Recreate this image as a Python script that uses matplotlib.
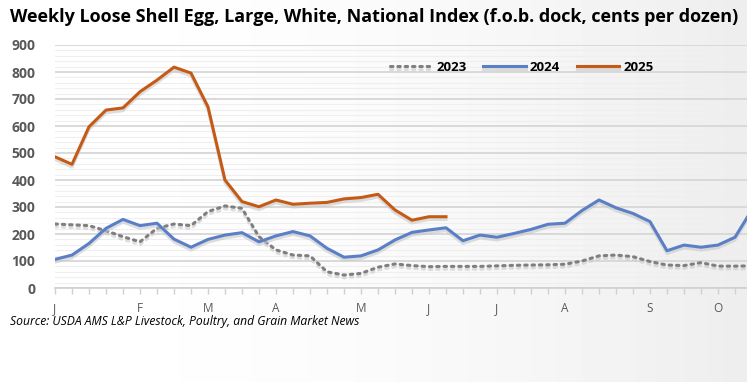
import numpy as np
import matplotlib.pyplot as plt
import matplotlib.patheffects as pe
from matplotlib import font_manager
from matplotlib.ticker import MultipleLocator

# weekly index, cents per dozen
y2023 = [237, 234, 231, 212, 190, 171, 221, 237, 231, 283, 304, 295, 190, 141,
         122, 119, 60, 48, 54, 77, 89, 83, 79, 80, 80, 80, 82, 84, 85, 86,
         88, 100, 119, 122, 116, 98, 85, 83, 94, 81, 81, 82]
y2024 = [106, 122, 165, 221, 254, 231, 240, 181, 151, 180, 196, 205, 171, 193,
         209, 193, 147, 114, 119, 141, 178, 206, 215, 223, 175, 196, 188, 202,
         217, 236, 240, 287, 326, 297, 276, 246, 138, 159, 151, 159, 188, 290]
y2025 = [486, 458, 597, 659, 667, 727, 770, 818, 796, 671, 400, 320, 301, 326,
         310, 314, 317, 330, 335, 347, 289, 251, 264, 264]

month_weeks = [0, 5, 9, 13, 18, 22, 26, 30, 35, 39]
month_labels = ['J', 'F', 'M', 'A', 'M', 'J', 'J', 'A', 'S', 'O']

title = 'Weekly Loose Shell Egg, Large, White, National Index (f.o.b. dock, cents per dozen)'
source = 'Source: USDA AMS L&P Livestock, Poultry, and Grain Market News'

names = {f.name for f in font_manager.fontManager.ttflist}
fnt = [n for n in ['DejaVu Sans Condensed', 'Liberation Sans Narrow', 'Open Sans', 'DejaVu Sans'] if n in names]

fig = plt.figure(figsize=(7.47, 3.82), dpi=100)

# faint grey wash towards the right, as in the original background
bg = fig.add_axes([0, 0, 1, 1], zorder=-5)
grad = np.linspace(0, 1, 200) ** 2
bg.imshow(np.tile(1 - 0.07 * grad, (10, 1)), cmap='gray', vmin=0, vmax=1,
          aspect='auto', extent=[0, 1, 0, 1])
bg.axis('off')

ax = fig.add_axes([55 / 747, 94 / 382, 692 / 747, 243 / 382])

shadow = [pe.SimpleLineShadow(offset=(0, -2), shadow_color='#c8c8c8', alpha=0.6), pe.Normal()]

ax.plot(range(len(y2023)), y2023, color='#7f7f7f', lw=2.2, ls=(0, (0.8, 1.6)),
        dash_capstyle='round', label='2023', path_effects=shadow)
ax.plot(range(len(y2024)), y2024, color='#5a7fc6', lw=2.2, solid_joinstyle='round',
        label='2024', path_effects=shadow)
ax.plot(range(len(y2025)), y2025, color='#c45a16', lw=2.2, solid_joinstyle='round',
        label='2025', path_effects=shadow)

ax.set_ylim(0, 900)
ax.set_xlim(0, 692 / 17)
ax.yaxis.set_major_locator(MultipleLocator(100))
ax.yaxis.set_minor_locator(MultipleLocator(20))
ax.grid(axis='y', which='major', color='#d9d9d9', lw=1.4)
ax.grid(axis='y', which='minor', color='#efefef', lw=0.8)
ax.set_axisbelow(True)

ax.set_xticks(month_weeks)
ax.set_xticklabels(month_labels, family=fnt, fontsize=8.5, color='#595959')
ax.set_xticks(range(0, 41), minor=True)
ax.tick_params(axis='x', which='both', length=4, color='#d0d0d0', width=1, pad=6)
ax.tick_params(axis='y', which='both', length=0, pad=14)
for t in ax.get_yticklabels():
    t.set_fontweight('bold')
    t.set_color('#595959')
    t.set_fontsize(10)
    t.set_family(fnt)

for s in ['top', 'right', 'left']:
    ax.spines[s].set_visible(False)
ax.spines['bottom'].set_color('#d0d0d0')
ax.spines['bottom'].set_linewidth(1.2)
ax.patch.set_alpha(0)

leg = ax.legend(loc='upper left', bbox_to_anchor=(323 / 692, 0.985), ncol=3, frameon=False,
                handlelength=3.2, columnspacing=1.3, handletextpad=0.3,
                prop={'family': fnt, 'weight': 'bold', 'size': 9.5})

ttl = fig.text(10 / 747, 1 - 17 / 382, title, family=fnt, fontweight='bold', fontsize=14.5,
               va='center', ha='left')
src = fig.text(10 / 747, 1 - 322 / 382, source, family=fnt, style='italic', fontsize=9.5,
               va='center', ha='left')

# shrink texts to the widths they take in the original
r = fig.canvas.get_renderer()
for txt, width in [(ttl, 730), (src, 352)]:
    w = txt.get_window_extent(r).width
    if w > width:
        txt.set_fontsize(txt.get_fontsize() * width / w)

fig.savefig('out.png', dpi=100)
